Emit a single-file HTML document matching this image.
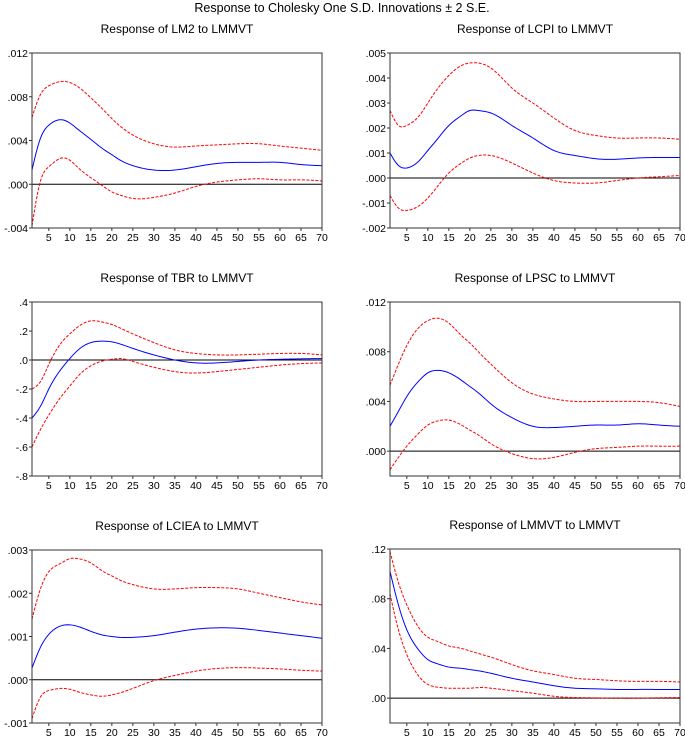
<!DOCTYPE html>
<html><head><meta charset="utf-8"><style>
body{margin:0;background:#fff;width:685px;height:738px;overflow:hidden;font-family:"Liberation Sans",Arial,sans-serif}
svg text{font-family:"Liberation Sans",Arial,sans-serif}
</style></head><body>
<svg id="c" width="685" height="738">
<text x="342" y="12" text-anchor="middle" font-size="12.5">Response to Cholesky One S.D. Innovations ± 2 S.E.</text>
</svg>
<script>
const periods=[1,3,5,8,10,12,15,18,20,22,25,30,35,40,45,50,55,60,65,70];
const xTicks=[5,10,15,20,25,30,35,40,45,50,55,60,65,70];
const titles=["Response of LM2 to LMMVT","Response of LCPI to LMMVT","Response of TBR to LMMVT","Response of LPSC to LMMVT","Response of LCIEA to LMMVT","Response of LMMVT to LMMVT"];
const lm2Mid=[.0013,.0042,.0054,.0059,.0056,.0050,.0041,.0032,.0027,.0022,.0017,.0013,.0013,.0016,.0019,.0020,.0020,.0020,.0018,.0017];
const lm2Up=[.0061,.0082,.0090,.0094,.0093,.0089,.0079,.0068,.0060,.0053,.0045,.0037,.0034,.0035,.0036,.0037,.0037,.0035,.0033,.0031];
const lm2Lo=[-.0038,.0003,.0016,.0024,.0022,.0015,.0006,-.0002,-.0007,-.0010,-.0013,-.0012,-.0008,-.0002,.0002,.0004,.0005,.0004,.0004,.0003];
const lcpiMid=[.0010,.0005,.0004,.0007,.0011,.0015,.0021,.0025,.0027,.0027,.0026,.0021,.0016,.0011,.0009,.00077,.00075,.0008,.00082,.00082];
const lcpiUp=[.0027,.0021,.0021,.0025,.0030,.0035,.0041,.0045,.0046,.0046,.0044,.0036,.0030,.0024,.0019,.0017,.0016,.0016,.0016,.00155];
const lcpiLo=[-.0007,-.0012,-.0013,-.0011,-.0008,-.0004,.0002,.0006,.0008,.0009,.0009,.0006,.0002,-.0001,-.0002,-.0002,-.0001,0,.00005,.0001];
const tbrMid=[-.40,-.32,-.20,-.06,.01,.07,.12,.13,.125,.11,.08,.035,0,-.02,-.02,-.01,0,.005,.008,.01];
const tbrUp=[-.20,-.15,-.03,.12,.18,.23,.27,.26,.245,.22,.18,.12,.07,.045,.035,.035,.04,.045,.045,.035];
const tbrLo=[-.60,-.48,-.38,-.25,-.18,-.11,-.04,-.005,.005,.01,-.01,-.05,-.08,-.09,-.08,-.065,-.05,-.035,-.025,-.02];
const lpscMid=[.0020,.0032,.0044,.0057,.0063,.0065,.0063,.0057,.0052,.0047,.0038,.0027,.0020,.0019,.0020,.0021,.0021,.0022,.0021,.0020];
const lpscUp=[.0053,.0070,.0085,.0100,.0105,.0107,.0103,.0093,.0087,.0080,.0070,.0055,.0046,.0042,.0040,.0040,.0040,.0040,.0039,.0036];
const lpscLo=[-.0015,-.0005,.0004,.0015,.0021,.0024,.0025,.0021,.0017,.0013,.0006,-.0002,-.0006,-.0005,-.0001,.0002,.0003,.0004,.0004,.0004];
const lcieaMid=[.00027,.00075,.00105,.00125,.00127,.00123,.00112,.00103,.00100,.00098,.00098,.00102,.00110,.00117,.00120,.00119,.00114,.00108,.00102,.00096];
const lcieaUp=[.0014,.0021,.0025,.0027,.0028,.0028,.0027,.0025,.0024,.0023,.0022,.0021,.0021,.00213,.00213,.0021,.0020,.0019,.0018,.00173];
const lcieaLo=[-.0009,-.0004,-.00025,-.0002,-.00022,-.00028,-.00035,-.00038,-.00035,-.0003,-.0002,-.00002,.0001,.0002,.00026,.00028,.00027,.00025,.00022,.0002];
const lmmvtMid=[.102,.075,.055,.038,.031,.028,.025,.024,.023,.022,.020,.016,.013,.010,.008,.0075,.007,.007,.007,.007];
const lmmvtUp=[.118,.093,.075,.056,.049,.046,.042,.040,.038,.036,.033,.027,.022,.019,.016,.015,.014,.0135,.0135,.013];
const lmmvtLo=[.084,.055,.035,.017,.011,.009,.008,.008,.008,.0085,.008,.006,.004,.0015,.0005,.0002,0,0,.0003,.0005];
const yTicks=[[-.004,0,.004,.008,.012],[-.002,-.001,0,.001,.002,.003,.004,.005],[-.8,-.6,-.4,-.2,0,.2,.4],[0,.004,.008,.012],[-.001,0,.001,.002,.003],[0,.04,.08,.12]];
const yLabels=[["-.004",".000",".004",".008",".012"],["-.002","-.001",".000",".001",".002",".003",".004",".005"],["-.8","-.6","-.4","-.2",".0",".2",".4"],[".000",".004",".008",".012"],["-.001",".000",".001",".002",".003"],[".00",".04",".08",".12"]];
const yRanges=[[-.004,.012],[-.002,.005],[-.8,.4],[-.002,.012],[-.001,.003],[-.02,.12]];
const series=[[lm2Mid,lm2Up,lm2Lo],[lcpiMid,lcpiUp,lcpiLo],[tbrMid,tbrUp,tbrLo],[lpscMid,lpscUp,lpscLo],[lcieaMid,lcieaUp,lcieaLo],[lmmvtMid,lmmvtUp,lmmvtLo]];
const boxes=[[32,53,322,228],[390,53,680,228],[32,302,322,476],[390,302,680,476],[32,550,322,723],[390,549,680,723]];
const names=["lm2","lcpi","tbr","lpsc","lciea","lmmvt"];
const svg=document.getElementById('c');const NS="http://www.w3.org/2000/svg";
function mk(t,a,p){const e=document.createElementNS(NS,t);for(const k in a)e.setAttribute(k,a[k]);(p||svg).appendChild(e);return e;}
function spline(xs,ys){const n=xs.length,h=[],al=[0],l=[1],mu=[0],z=[0],c=new Array(n).fill(0),b=[],d=[];
 for(let i=0;i<n-1;i++)h.push(xs[i+1]-xs[i]);
 for(let i=1;i<n-1;i++)al.push(3/h[i]*(ys[i+1]-ys[i])-3/h[i-1]*(ys[i]-ys[i-1]));
 for(let i=1;i<n-1;i++){l[i]=2*(xs[i+1]-xs[i-1])-h[i-1]*mu[i-1];mu[i]=h[i]/l[i];z[i]=(al[i]-h[i-1]*z[i-1])/l[i];}
 l[n-1]=1;z[n-1]=0;
 for(let j=n-2;j>=0;j--){c[j]=z[j]-mu[j]*c[j+1];b[j]=(ys[j+1]-ys[j])/h[j]-h[j]*(c[j+1]+2*c[j])/3;d[j]=(c[j+1]-c[j])/(3*h[j]);}
 return x=>{let i=0;while(i<n-2&&x>xs[i+1])i++;const t=x-xs[i];return ys[i]+b[i]*t+c[i]*t*t+d[i]*t*t*t;};}
boxes.forEach((b,i)=>{
 const [L,T,R,B]=b;const g=mk('g',{});
 
 
 const xs=p=>L+(p-1)*(R-L)/69;
 const ys=v=>B-(v-yRanges[i][0])*(B-T)/(yRanges[i][1]-yRanges[i][0]);
 const t=mk('text',{x:(L+R)/2,y:T-20,'text-anchor':'middle','font-size':12},g);t.textContent=titles[i];
 
 
 const z=mk('line',{x1:L,x2:R,y1:ys(0),y2:ys(0),stroke:'#000','stroke-width':1},g);
 
 
 const cols=['#0000ff','#ff0000','#ff0000'];
 series[i].forEach((s,j)=>{
  const f=spline(periods,s);let d="";
  for(let p=1;p<=70;p+=0.5){d+=(p==1?"M":"L")+xs(p).toFixed(2)+","+ys(f(p)).toFixed(2);}
  const p=mk('path',{d:d,fill:'none',stroke:cols[j],'stroke-width':1,'stroke-dasharray':j?'3,1.5':'none'},g);
  
  
 });
 const r=mk('rect',{x:L,y:T,width:R-L,height:B-T,fill:'none',stroke:'#333','stroke-width':1},g);
 
 
 xTicks.forEach(p=>{mk('line',{x1:xs(p),x2:xs(p),y1:B,y2:B+3,stroke:'#333'},g);
  const tx=mk('text',{x:xs(p),y:B+13,'text-anchor':'middle','font-size':10.5},g);tx.textContent=p;
  
  });
 yTicks[i].forEach((v,k)=>{mk('line',{x1:L-3,x2:L,y1:ys(v),y2:ys(v),stroke:'#333'},g);
  const ty=mk('text',{x:L-4,y:ys(v)+4,'text-anchor':'end','font-size':10.5},g);ty.textContent=yLabels[i][k];
  
  });
});
</script>
</body></html>
